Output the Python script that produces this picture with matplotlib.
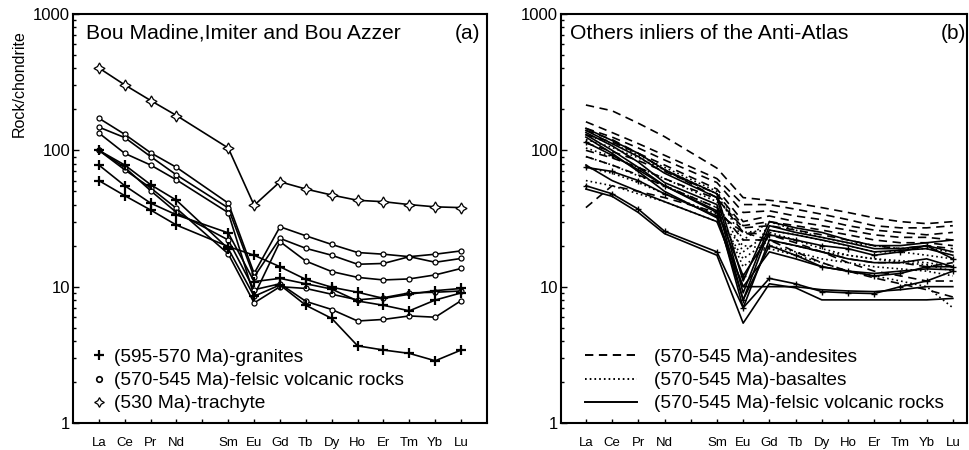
import matplotlib
matplotlib.use("Agg")
import matplotlib.pyplot as plt
from matplotlib.lines import Line2D
from matplotlib.ticker import FixedLocator, LogLocator, NullFormatter

plt.rcParams['font.family'] = ['Liberation Sans', 'DejaVu Sans']
plt.rcParams['lines.scale_dashes'] = False

# REE order (Pm left empty, index 4)
ree = ['La', 'Ce', 'Pr', 'Nd', 'Sm', 'Eu', 'Gd', 'Tb', 'Dy', 'Ho', 'Er', 'Tm', 'Yb', 'Lu']
ree_pos = [0, 1, 2, 3, 5, 6, 7, 8, 9, 10, 11, 12, 13, 14]
tick_labels = ['La', 'Ce', 'Pr', 'Nd', '', 'Sm', 'Eu', 'Gd', 'Tb', 'Dy', 'Ho', 'Er', 'Tm', 'Yb', 'Lu']

# ---- panel (a): Bou Madine, Imiter, Bou Azzer ----
granites = [
    [78, 55, 41, 33.6, 24.8, 10.9, 11.5, 10.5, 9.6, 7.85, 7.3, 6.65, 7.98, 9.0],
    [60, 46.5, 36.5, 28.3, 19.7, 17, 14, 11.3, 9.9, 9.1, 8.2, 8.8, 9.35, 9.7],
    [100, 78, 56, 43, 19, 8.5, 10.3, 7.3, 5.85, 3.68, 3.43, 3.24, 2.86, 3.43],
]
felsic_a = [
    [172, 131, 96, 75, 41, 12.5, 27.5, 23.6, 20.4, 17.8, 17.3, 16.6, 17.3, 18.3],
    [148, 124, 90, 66, 37.8, 11.8, 22.6, 19.1, 17, 14.6, 14.8, 16.6, 15.1, 16.1],
    [134, 95, 78, 60.7, 34.9, 8.6, 21.4, 15.4, 12.9, 11.7, 11.2, 11.4, 12.2, 13.6],
    [100, 72, 53, 37.5, 17.4, 7.6, 10.0, 9.7, 8.8, 8.0, 8.3, 9.0, 9.1, 9.3],
    [100, 75, 50.6, 35, 22, 9.5, 10.5, 7.8, 6.8, 5.6, 5.75, 6.1, 5.97, 7.9],
]
trachyte = [402, 302, 232, 180, 104, 39.5, 58.8, 52, 47, 43, 42, 40, 38.5, 38]

# ---- panel (b): other inliers of the Anti-Atlas ----
andesites = [
    [215, 195, 158, 126, 74, 45, 43, 41, 38, 35, 32, 30, 29, 30],
    [162, 135, 112, 92, 62, 40, 40, 37, 34, 31, 28, 27, 27, 28],
    [145, 125, 104, 85, 58, 35, 36, 33, 31, 28, 26, 25, 24, 25],
    [130, 115, 95, 78, 52, 30, 33, 30, 28, 26, 24, 23, 23, 22],
    [113, 98, 84, 70, 48, 28, 30, 28, 26, 24, 22, 21, 21, 20],
    [100, 88, 75, 62, 44, 27, 28, 26, 24, 22, 20, 19, 20, 19],
    [90, 78, 66, 55, 38, 22, 22, 20, 18, 16, 15, 15, 14, 15],
    [38, 55, 50, 45, 35, 25, 24, 21, 18, 15, 13, 12, 11, 11],
    [140, 120, 95, 72, 45, 25, 22, 18, 15, 13, 11.6, 10.5, 9.5, 8.4],
]
basaltes = [
    [120, 105, 88, 72, 48, 22, 30, 26, 23, 21, 20, 19, 19, 18],
    [104, 90, 75, 62, 42, 18, 25, 22, 19, 17, 16, 15.5, 15, 14],
    [90, 78, 65, 55, 38, 14, 20, 18, 16, 15, 14, 13.5, 13, 12],
    [75, 68, 58, 48, 34, 16, 22, 20, 18, 17, 16, 15, 14.5, 13],
    [60, 55, 48, 42, 30, 20, 19, 17, 15, 13, 12, 11, 10, 7],
    [130, 112, 92, 75, 50, 25, 26, 24, 22, 20, 18, 18, 17, 16],
]
felsic_b = [
    [145, 118, 95, 72, 48, 11, 30, 27, 25, 22, 20, 20, 21, 22],
    [140, 112, 90, 68, 45, 9, 28, 25, 23, 21, 19, 19, 20, 18],
    [135, 108, 82, 58, 40, 8, 26, 24, 22, 20, 18, 18.5, 19, 17],
    [130, 100, 75, 55, 35, 7, 22, 20, 18, 16, 15, 15, 16, 14],
    [125, 95, 70, 50, 32, 10, 18, 16, 14, 13, 12.5, 13, 13.5, 13.3],
    [75, 70, 60, 48, 33, 8, 20, 17, 14, 13, 12, 12.5, 14, 14],
    [78, 60, 50, 42, 30, 10, 10, 10, 9.5, 9.3, 9.2, 9.5, 10, 10],
    [52, 46, 35, 24.5, 17, 5.4, 10.5, 9.8, 8.0, 8.0, 8.0, 8.0, 8.0, 8.2],
    [55, 48, 37, 25.5, 18, 7, 11.5, 10.5, 9.2, 9.0, 8.9, 10, 11, 13],
    [115, 92, 72, 55, 36, 12, 24, 22, 20, 19, 17, 18, 20, 16],
]
felsic_b_plus = [5, 8, 9]   # lines drawn with small + symbols

fig = plt.figure(figsize=(9.7, 4.5), dpi=100)
axa = fig.add_axes([73/970, 27/450, 414/970, 409/450])
axb = fig.add_axes([561/970, 27/450, 406/970, 409/450])

lw = 1.2
for y in felsic_a:
    axa.plot(ree_pos, y, '-', color='k', lw=lw, marker='o', ms=3.6, mfc='white', mec='k', mew=0.9)
for y in granites:
    axa.plot(ree_pos, y, '-', color='k', lw=lw, marker='+', ms=7, mew=1.6)
axa.plot(ree_pos, trachyte, '-', color='k', lw=lw, marker=(4, 1, 0), ms=8, mfc='white', mec='k', mew=0.9)

dash = (0, (6, 4))
dot = (0, (1.2, 2.2))
for y in andesites:
    axb.plot(ree_pos, y, color='k', lw=lw, linestyle=dash)
for y in basaltes:
    axb.plot(ree_pos, y, color='k', lw=lw, linestyle=dot)
for i, y in enumerate(felsic_b):
    if i in felsic_b_plus:
        axb.plot(ree_pos, y, '-', color='k', lw=lw, marker='+', ms=5, mew=1.0)
    else:
        axb.plot(ree_pos, y, '-', color='k', lw=lw)

for ax, xl in ((axa, (-1, 15)), (axb, (-0.95, 14.54))):
    ax.set_yscale('log')
    ax.set_ylim(1, 1000)
    ax.set_xlim(*xl)
    ax.xaxis.set_major_locator(FixedLocator(list(range(15))))
    ax.set_xticklabels(tick_labels, fontsize=9.5)
    ax.yaxis.set_major_locator(FixedLocator([1, 10, 100, 1000]))
    ax.set_yticklabels(['1', '10', '100', '1000'], fontsize=12)
    ax.yaxis.set_minor_locator(LogLocator(base=10, subs=range(2, 10)))
    ax.yaxis.set_minor_formatter(NullFormatter())
    ax.tick_params(axis='x', direction='in', length=3, width=1, pad=10, top=False)
    ax.tick_params(axis='y', which='major', direction='in', length=4, width=1, pad=2, right=False)
    ax.tick_params(axis='y', which='minor', direction='in', length=2, width=1, right=False)
    for s in ax.spines.values():
        s.set_linewidth(1.5)

axa.set_ylabel('Rock/chondrite', fontsize=11.5)
axa.yaxis.set_label_coords(-0.111, 0.83)

axa.text(0.031, 0.953, 'Bou Madine,Imiter and Bou Azzer', transform=axa.transAxes,
         fontsize=15.2, va='center', ha='left')
axa.text(0.983, 0.953, '(a)', transform=axa.transAxes, fontsize=15, va='center', ha='right')
axb.text(0.022, 0.953, 'Others inliers of the Anti-Atlas', transform=axb.transAxes,
         fontsize=15.2, va='center', ha='left')
axb.text(0.997, 0.953, '(b)', transform=axb.transAxes, fontsize=15, va='center', ha='right')

ha = [Line2D([], [], ls='none', color='k', marker='+', ms=7, mew=1.6),
      Line2D([], [], ls='none', color='k', marker='o', ms=4, mfc='white', mew=1.2),
      Line2D([], [], ls='none', color='k', marker=(4, 1, 0), ms=7, mfc='white', mew=0.9)]
axa.legend(ha, ['(595-570 Ma)-granites', '(570-545 Ma)-felsic volcanic rocks', '(530 Ma)-trachyte'],
           loc='lower left', bbox_to_anchor=(0.018, 0.0), frameon=False, fontsize=13.8,
           handlelength=0.8, handletextpad=0.42, labelspacing=0.3, borderaxespad=0.15)

hb = [Line2D([], [], color='k', lw=1.4, linestyle=dash),
      Line2D([], [], color='k', lw=1.4, linestyle=dot),
      Line2D([], [], color='k', lw=1.4)]
axb.legend(hb, ['(570-545 Ma)-andesites', '(570-545 Ma)-basaltes', '(570-545 Ma)-felsic volcanic rocks'],
           loc='lower left', bbox_to_anchor=(0.033, 0.0), frameon=False, fontsize=13.8,
           handlelength=2.73, handletextpad=0.88, labelspacing=0.3, borderaxespad=0.15)

fig.savefig('out.png', dpi=100)
